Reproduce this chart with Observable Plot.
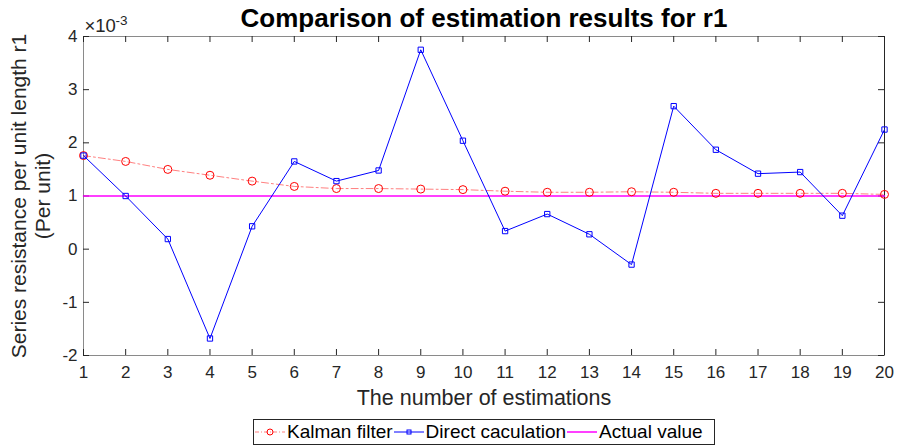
<!DOCTYPE html>
<html><head><meta charset="utf-8">
<script src="https://cdn.jsdelivr.net/npm/d3@7"></script>
<script src="https://cdn.jsdelivr.net/npm/@observablehq/plot@0.6"></script>
<style>
body{margin:0;background:#fff;font-family:"Liberation Sans",Arial,sans-serif;}
#wrap{width:899px;}
#legend{height:36px;position:relative;}
#legend .box{position:absolute;left:253px;top:7px;width:462px;height:26px;border:1px solid #262626;box-sizing:border-box;display:flex;align-items:center;font-size:19px;color:#000;white-space:nowrap;}
#legend .it{display:flex;align-items:center;}
</style></head><body>
<div id="wrap"><div id="chart"></div><div id="legend"></div></div>
<script>
const estimations = d3.range(1, 21);
const kalman = [1.76,1.65,1.50,1.39,1.28,1.18,1.14,1.14,1.13,1.12,1.09,1.07,1.07,1.08,1.07,1.05,1.05,1.05,1.05,1.03];
const direct = [1.76,1.00,0.19,-1.68,0.43,1.65,1.28,1.48,3.75,2.04,0.34,0.66,0.28,-0.29,2.69,1.87,1.42,1.45,0.63,2.25];
const actual = estimations.map(() => 1);
const yTicks = [-2,-1,0,1,2,3,4];
const xTicks = estimations;

const rows = (vals) => estimations.map((x,i)=>({x, y: vals[i]}));
const tickColor = "#262626";
const W = 899, H = 412, mT = 36, mB = 57, mL = 83, mR = 15;
const pw = W - mL - mR, ph = H - mT - mB, tl = 6;
const plot = Plot.plot({
  width: W, height: H,
  marginTop: mT, marginBottom: mB, marginLeft: mL, marginRight: mR,
  style: {fontFamily: '"Liberation Sans", Arial, sans-serif', fontSize: "17px", color: tickColor, background: "#fff"},
  x: {domain: [1, 20], ticks: xTicks},
  y: {domain: [-2, 4], ticks: yTicks},
  marks: [
    Plot.frame({stroke: "#8a8a8a", strokeWidth: 1}),
    Plot.ruleX([20], {stroke: tickColor, strokeWidth: 1}),
    Plot.ruleX(xTicks, {x: d => d, insetTop: ph - tl, stroke: tickColor}),
    Plot.ruleX(xTicks, {x: d => d, insetBottom: ph - tl, stroke: tickColor}),
    Plot.ruleY(yTicks, {y: d => d, insetRight: pw - tl, stroke: tickColor}),
    Plot.ruleY(yTicks, {y: d => d, insetLeft: pw - tl, stroke: tickColor}),
    Plot.axisX({anchor: "bottom", ticks: xTicks, tickSize: 0, tickPadding: 10, tickFormat: d => String(d), label: null, fontSize: 17}),
    Plot.axisY({anchor: "left", ticks: yTicks, tickSize: 0, tickPadding: 6, tickFormat: d => String(d), label: null, fontSize: 17}),
    Plot.line(rows(actual), {x: "x", y: "y", stroke: "#ff00ff", strokeWidth: 1.5}),
    Plot.line(rows(kalman), {x: "x", y: "y", stroke: "#ff0000", strokeOpacity: 0.5, strokeWidth: 1, strokeDasharray: "7,3,2,3"}),
    Plot.dot(rows(kalman), {x: "x", y: "y", r: 4, stroke: "#ff0000", fill: "none", strokeWidth: 1}),
    Plot.line(rows(direct), {x: "x", y: "y", stroke: "#0000ff", strokeWidth: 1}),
    Plot.dot(rows(direct), {x: "x", y: "y", symbol: "square", r: 3, stroke: "#0000ff", fill: "none", strokeWidth: 1}),
    Plot.text(["Comparison of estimation results for r1"], {frameAnchor: "top", lineAnchor: "middle", dy: -18, text: d => d, fontSize: 26, fontWeight: "bold", fill: "#000"}),
    Plot.text(["×10"], {frameAnchor: "top-left", lineAnchor: "middle", textAnchor: "start", dx: 1, dy: -10, text: d => d, fontSize: 18.5, fill: tickColor}),
    Plot.text(["-3"], {frameAnchor: "top-left", lineAnchor: "middle", textAnchor: "start", dx: 32, dy: -16, text: d => d, fontSize: 13.5, fill: tickColor}),
    Plot.text(["The number of estimations"], {frameAnchor: "bottom", lineAnchor: "middle", dy: 43, text: d => d, fontSize: 21.5, fill: tickColor}),
    Plot.text(["Series resistance per unit length r1"], {frameAnchor: "left", lineAnchor: "middle", textAnchor: "middle", dx: -64, rotate: -90, text: d => d, fontSize: 21, fill: tickColor}),
    Plot.text(["(Per unit)"], {frameAnchor: "left", lineAnchor: "middle", textAnchor: "middle", dx: -40, rotate: -90, text: d => d, fontSize: 21, fill: tickColor})
  ]
});
document.getElementById("chart").appendChild(plot);

const legendItems = [
  {label: "Kalman filter", color: "#ff0000", dash: "4,2,1,2", marker: "circle", opacity: 0.5},
  {label: "Direct caculation", color: "#0000ff", dash: null, marker: "square", opacity: 1},
  {label: "Actual value", color: "#ff00ff", dash: null, marker: null, opacity: 1}
];
const box = document.createElement("div"); box.className = "box";
legendItems.forEach(it => {
  const d = document.createElement("div"); d.className = "it";
  let mk = "";
  if (it.marker === "circle") mk = `<circle cx="15" cy="7" r="3" fill="none" stroke="${it.color}"/>`;
  if (it.marker === "square") mk = `<rect x="13" y="5" width="4" height="4" fill="none" stroke="${it.color}"/>`;
  d.innerHTML = `<svg width="30" height="14" style="margin:0 2px 0 1px"><line x1="0" x2="30" y1="7" y2="7" stroke="${it.color}" stroke-opacity="${it.opacity}" ${it.dash ? `stroke-dasharray="${it.dash}"` : ""} stroke-width="${it.marker?1:1.5}"/>${mk}</svg><span>${it.label}</span>`;
  box.appendChild(d);
});
document.getElementById("legend").appendChild(box);
</script>
</body></html>
